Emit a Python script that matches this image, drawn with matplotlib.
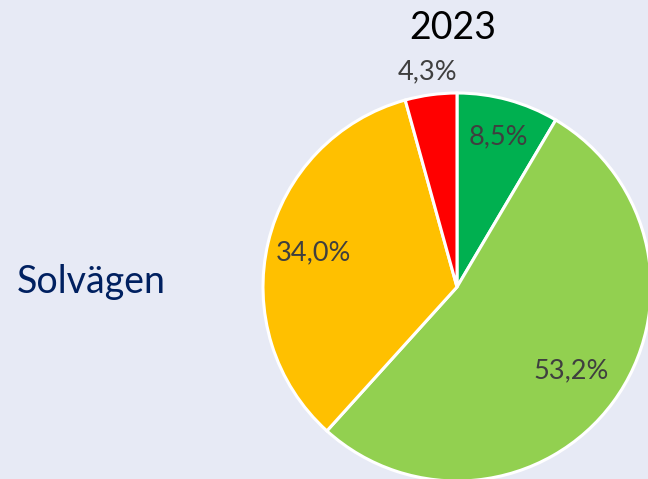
import numpy as np
import matplotlib.pyplot as plt

# slice shares, clockwise from 12 o'clock
shares = [8.5, 53.2, 34.0, 4.3]
share_labels = ["8,5%", "53,2%", "34,0%", "4,3%"]
colors = ["#00B050", "#92D050", "#FFC000", "#FF0000"]
label_dist = [0.80, 0.73, 0.76, 1.12]

title = "2023"
row_name = "Solvägen"

plt.rcParams['font.family'] = ['Lato', 'DejaVu Sans']

bg = "#E7EAF5"
fig = plt.figure(figsize=(6.48, 4.79), dpi=100, facecolor=bg)

# pie centre ~ (457, 287) px, radius ~194 px
cx, cy, r = 457, 287, 194
W, H = 648, 479
ax = fig.add_axes([(cx - r) / W, (H - cy - r) / H, 2 * r / W, 2 * r / H])
ax.set_facecolor(bg)

wedges, _ = ax.pie(shares, colors=colors, startangle=90, counterclock=False,
                   radius=1.0,
                   wedgeprops=dict(edgecolor="white", linewidth=2.2))
ax.set_xlim(-1, 1)
ax.set_ylim(-1, 1)
ax.set_aspect("equal")
ax.axis("off")

for w, lab, d in zip(wedges, share_labels, label_dist):
    ang = np.deg2rad((w.theta1 + w.theta2) / 2)
    ax.text(d * np.cos(ang), d * np.sin(ang), lab, ha="center", va="center",
            fontsize=19.5, color="#3F3F3F", clip_on=False)

fig.text(453 / W, 1 - 28 / H, title, ha="center", va="center",
         fontsize=27, color="black")
fig.text(17 / W, 1 - 282 / H, row_name, ha="left", va="center",
         fontsize=27, color="#002060")

fig.savefig("out.png", dpi=100, facecolor=bg)
